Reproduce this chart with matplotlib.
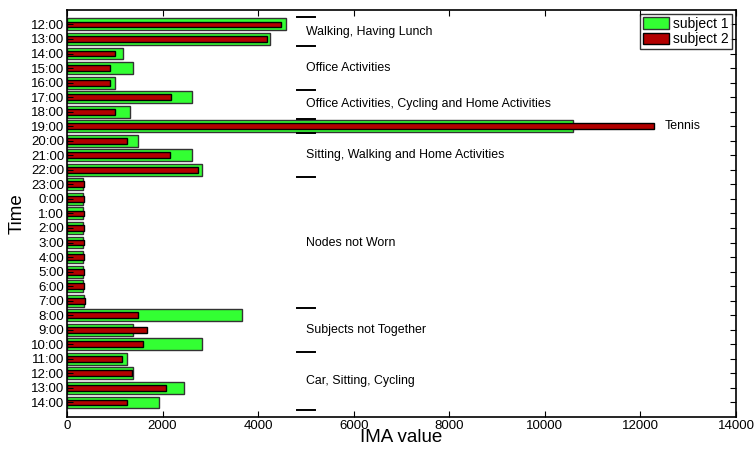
import numpy as np
import matplotlib
matplotlib.use("Agg")
import matplotlib.pyplot as plt

plt.rcParams['font.family'] = ['Liberation Sans', 'DejaVu Sans']

hours = ['12:00', '13:00', '14:00', '15:00', '16:00', '17:00', '18:00', '19:00',
         '20:00', '21:00', '22:00', '23:00', '0:00', '1:00', '2:00', '3:00',
         '4:00', '5:00', '6:00', '7:00', '8:00', '9:00', '10:00', '11:00',
         '12:00', '13:00', '14:00']
subject1 = [4590, 4250, 1175, 1385, 1000, 2610, 1316, 10585, 1484, 2610, 2833,
            330, 330, 330, 330, 330, 330, 330, 330, 357,
            3660, 1385, 2833, 1260, 1379, 2442, 1925]
subject2 = [4484, 4185, 1015, 890, 910, 2170, 995, 12277, 1246, 2149, 2743,
            357, 357, 357, 357, 357, 357, 357, 357, 378,
            1490, 1666, 1582, 1142, 1364, 2078, 1246]

# activity separators (between hours) and labels
separators = [0.5, 2.5, 5.5, 7.5, 8.5, 11.5, 20.5, 23.5, 27.5]
activities = ['Walking, Having Lunch', 'Office Activities',
              'Office Activities, Cycling and Home Activities',
              'Sitting, Walking and Home Activities', 'Nodes not Worn',
              'Subjects not Together', 'Car, Sitting, Cycling']
activity_pos = [1.5, 4.0, 6.5, 10.0, 16.0, 22.0, 25.5]

fig = plt.figure(figsize=(7.56, 4.5), dpi=100)
ax = fig.add_axes([0.0886, 0.0733, 0.8849, 0.9047])

y = np.arange(1, len(hours) + 1)
ax.barh(y, subject1, height=0.82, color='#33ff33', edgecolor='#333333',
        linewidth=1.0, label='subject 1')
ax.barh(y, subject2, height=0.4, color='#b30000', edgecolor='black',
        linewidth=1.0, label='subject 2')

for s in separators:
    ax.plot([4820, 5200], [s, s], color='black', lw=1.4)
for name, p in zip(activities, activity_pos):
    ax.text(5010, p, name, fontsize=8.9, va='center', ha='left')
ax.text(12500, 8, 'Tennis', fontsize=8.9, va='center', ha='left')

ax.set_xlim(0, 14000)
ax.set_ylim(28, 0)
ax.set_yticks(y)
ax.set_yticklabels(hours, fontsize=9.5)
ax.set_xticks(np.arange(0, 14001, 2000))
ax.tick_params(axis='x', labelsize=9.5)
ax.tick_params(direction='in', top=True, right=True, length=4, pad=2)
ax.set_xlabel('IMA value', fontsize=13.5, labelpad=-2)
ax.set_ylabel('Time', fontsize=13.5, labelpad=4)
for sp in ax.spines.values():
    sp.set_linewidth(1.2)

leg = ax.legend(loc='upper right', fontsize=10, frameon=True, fancybox=False,
                edgecolor='black', borderaxespad=0.3, borderpad=0.2,
                handlelength=1.9, handleheight=0.9, handletextpad=0.3,
                labelspacing=0.1)
leg.get_frame().set_linewidth(1.0)

fig.savefig('out.png', dpi=100)
